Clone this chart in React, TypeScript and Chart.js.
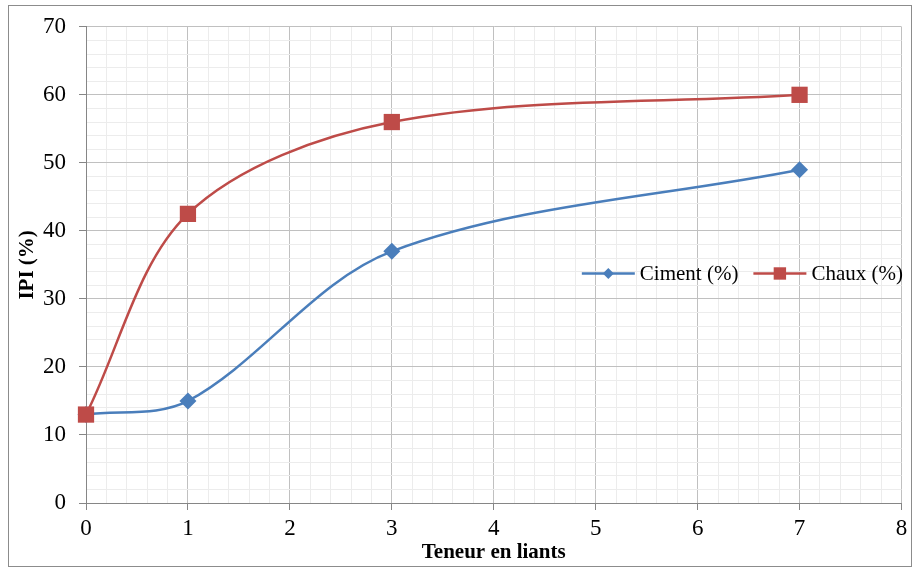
import React, { useEffect, useRef } from 'react';
import { Chart, registerables } from 'chart.js';

Chart.register(...registerables);

// ---- data ----
const teneur = [0, 1, 3, 7];
const ciment = [13, 15, 37, 49];
const chaux = [13, 42.5, 56, 60];
const seriesLabels = ['Ciment (%)', 'Chaux (%)'];
const xTitle = 'Teneur en liants';
const yTitle = 'IPI (%)';
const xMin = 0, xMax = 8, xMinorStep = 0.2, xMajorStep = 1;
const yMin = 0, yMax = 70, yMinorStep = 2, yMajorStep = 10;

const FONT = "'Liberation Serif', 'Times New Roman', serif";
const BLUE = '#4a7ebb';
const RED = '#be4b48';
const MAJOR = '#c0c0c0';
const MINOR = '#ececec';
const AXIS = '#868686';

const isMajor = (v: number, step: number) => Math.abs(v / step - Math.round(v / step)) < 1e-6;

const framePlugin = {
  id: 'frame',
  beforeDraw(chart: any) {
    const { ctx, width, height } = chart;
    ctx.save();
    ctx.fillStyle = '#ffffff';
    ctx.fillRect(0, 0, width, height);
    ctx.strokeStyle = '#8c8c8c';
    ctx.lineWidth = 1;
    ctx.strokeRect(8.5, 5.5, width - 10, height - 7);
    ctx.restore();
  },
};

const legendPlugin = {
  id: 'insideLegend',
  afterDatasetsDraw(chart: any) {
    const { ctx, chartArea } = chart;
    const y = chartArea.top + (chartArea.bottom - chartArea.top) * 0.518;
    let x = chartArea.left + (chartArea.right - chartArea.left) * 0.608;
    ctx.save();
    ctx.font = `21px ${FONT}`;
    ctx.textBaseline = 'middle';
    chart.data.datasets.forEach((ds: any) => {
      const lineLen = 53;
      ctx.strokeStyle = ds.borderColor;
      ctx.lineWidth = 2.5;
      ctx.beginPath();
      ctx.moveTo(x, y);
      ctx.lineTo(x + lineLen, y);
      ctx.stroke();
      const cx = x + lineLen / 2;
      ctx.fillStyle = ds.backgroundColor;
      ctx.beginPath();
      if (ds.pointStyle === 'rectRot') {
        const r = 5.5;
        ctx.moveTo(cx - r, y);
        ctx.lineTo(cx, y - r);
        ctx.lineTo(cx + r, y);
        ctx.lineTo(cx, y + r);
        ctx.closePath();
      } else {
        const s = 6.2;
        ctx.rect(cx - s, y - s, 2 * s, 2 * s);
      }
      ctx.fill();
      ctx.fillStyle = '#000000';
      ctx.fillText(ds.label, x + lineLen + 5, y + 1);
      x += lineLen + 5 + ctx.measureText(ds.label).width + 15;
    });
    ctx.restore();
  },
};

export default function App() {
  const canvasRef = useRef<HTMLCanvasElement | null>(null);

  useEffect(() => {
    document.body.style.margin = '0';
    const canvas = canvasRef.current;
    if (!canvas) return;
    const chart = new Chart(canvas, {
      type: 'line',
      data: {
        datasets: [
          {
            label: seriesLabels[0],
            data: teneur.map((x, i) => ({ x, y: ciment[i] })),
            borderColor: BLUE,
            backgroundColor: BLUE,
            borderWidth: 2.5,
            pointStyle: 'rectRot',
            pointRadius: 8.5,
            pointBorderWidth: 0,
            tension: 0.33,
            clip: false,
            order: 1,
          },
          {
            label: seriesLabels[1],
            data: teneur.map((x, i) => ({ x, y: chaux[i] })),
            borderColor: RED,
            backgroundColor: RED,
            borderWidth: 2.5,
            pointStyle: 'rect',
            pointRadius: 11.5,
            pointBorderWidth: 0,
            tension: 0.33,
            clip: false,
            order: 0,
          },
        ],
      },
      options: {
        animation: false,
        responsive: false,
        maintainAspectRatio: false,
        layout: { padding: { left: 9, right: 9, top: 26, bottom: 3 } },
        plugins: {
          legend: { display: false },
          tooltip: { enabled: false },
        },
        scales: {
          x: {
            type: 'linear',
            min: xMin,
            max: xMax,
            afterFit: (s: any) => { s.height = 62; },
            ticks: {
              stepSize: xMinorStep,
              autoSkip: false,
              maxRotation: 0,
              padding: 5,
              color: '#000',
              font: { family: FONT, size: 23 },
              callback: (v: any) => (isMajor(Number(v), xMajorStep) ? String(Math.round(Number(v))) : ''),
            },
            grid: {
              color: (c: any) => (c.tick && isMajor(c.tick.value, xMajorStep) ? MAJOR : MINOR),
              tickColor: (c: any) => (c.tick && isMajor(c.tick.value, xMajorStep) ? AXIS : 'rgba(0,0,0,0)'),
              tickLength: 7,
              lineWidth: 1,
            },
            border: { color: AXIS, width: 1 },
            title: {
              display: true,
              text: xTitle,
              color: '#000',
              font: { family: FONT, size: 21, weight: 'bold' },
              padding: { top: 0, bottom: 0 },
            },
          },
          y: {
            type: 'linear',
            min: yMin,
            max: yMax,
            afterFit: (s: any) => { s.width = 77; },
            ticks: {
              stepSize: yMinorStep,
              autoSkip: false,
              padding: 13,
              color: '#000',
              font: { family: FONT, size: 23 },
              callback: (v: any) => (isMajor(Number(v), yMajorStep) ? String(Math.round(Number(v))) : ''),
            },
            grid: {
              color: (c: any) => (c.tick && isMajor(c.tick.value, yMajorStep) ? MAJOR : MINOR),
              tickColor: (c: any) => (c.tick && isMajor(c.tick.value, yMajorStep) ? AXIS : 'rgba(0,0,0,0)'),
              tickLength: 7,
              lineWidth: 1,
            },
            border: { color: AXIS, width: 1 },
            title: {
              display: true,
              text: yTitle,
              color: '#000',
              font: { family: FONT, size: 21, weight: 'bold' },
              padding: { top: 6, bottom: 0 },
            },
          },
        },
      },
      plugins: [framePlugin, legendPlugin],
    } as any);
    return () => chart.destroy();
  }, []);

  return (
    <div style={{ width: 913, height: 568, position: 'relative' }}>
      <canvas ref={canvasRef} width={913} height={568} style={{ display: 'block' }} />
    </div>
  );
}
